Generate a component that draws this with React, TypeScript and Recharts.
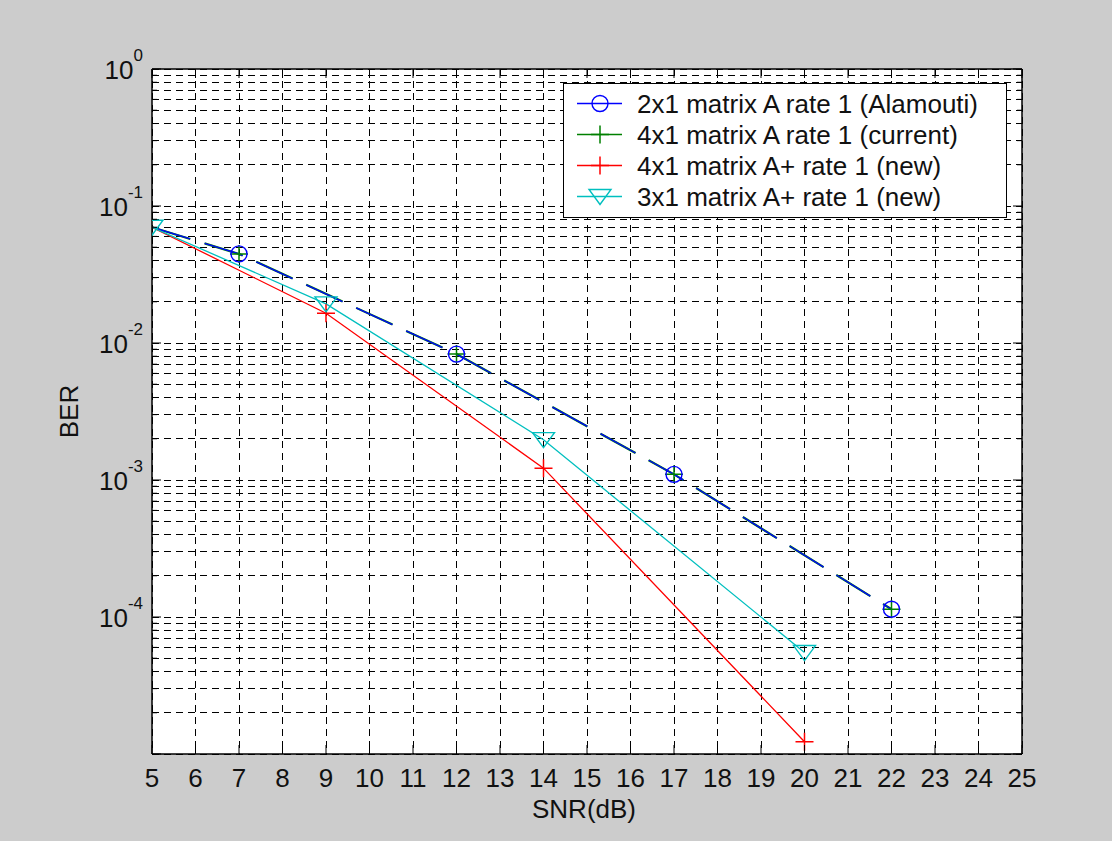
import React from "react";
import { LineChart, Line, XAxis, YAxis, CartesianGrid, Legend } from "recharts";

// BER vs SNR for the rate-1 space-time block code variants (log BER axis).

const SNR_RATE1 = [5, 7, 12, 17, 22];
const BER_ALAMOUTI_2X1 = [0.07, 0.0447, 0.0083, 0.0011, 0.000114];
const BER_CURRENT_4X1 = [0.07, 0.0447, 0.0083, 0.0011, 0.000114];

const SNR_NEW = [5, 9, 14, 20];
const BER_NEW_4X1 = [0.07, 0.0165, 0.00122, 0.0000123];
const BER_NEW_3X1 = [0.07, 0.0193, 0.00197, 0.000055];

const X_TICKS = [5, 6, 7, 8, 9, 10, 11, 12, 13, 14, 15, 16, 17, 18, 19, 20, 21, 22, 23, 24, 25];
const DECADES = [-5, -4, -3, -2, -1, 0];
const MINOR_STEPS = [1, 2, 3, 4, 5, 6, 7, 8, 9];
// grid/tick values: 1..9 x 10^k for each decade, closing on 10^0
const Y_TICKS = DECADES.flatMap((e) =>
  e === 0 ? [1] : MINOR_STEPS.map((m) => Number((m * Math.pow(10, e)).toPrecision(3))),
);

const FONT = "'Liberation Sans', Arial, sans-serif";
const INK = "#111";

type MarkerKind = "circle" | "plus" | "tri";

interface SeriesDef {
  name: string;
  snr: number[];
  ber: number[];
  color: string;
  marker: MarkerKind;
  dash?: string;
  width: number;
  z: number; // draw order; blue sits on top of the (identical) green curve
  markFirst: boolean; // the 5 dB start point carries no marker on the clipped curves
}

const SERIES: SeriesDef[] = [
  { name: "2x1 matrix A rate 1 (Alamouti)", snr: SNR_RATE1, ber: BER_ALAMOUTI_2X1, color: "#0000ff", marker: "circle", dash: "40 15", width: 1.3, z: 1, markFirst: false },
  { name: "4x1 matrix A rate 1 (current)", snr: SNR_RATE1, ber: BER_CURRENT_4X1, color: "#008000", marker: "plus", dash: "40 15", width: 2.2, z: 0, markFirst: false },
  { name: "4x1 matrix A+ rate 1 (new)", snr: SNR_NEW, ber: BER_NEW_4X1, color: "#ff0000", marker: "plus", width: 1.3, z: 2, markFirst: false },
  { name: "3x1 matrix A+ rate 1 (new)", snr: SNR_NEW, ber: BER_NEW_3X1, color: "#00bfbf", marker: "tri", width: 1.3, z: 3, markFirst: true },
];

function Marker({ kind, cx, cy, color }: { kind: MarkerKind; cx: number; cy: number; color: string }) {
  if (kind === "circle") {
    return <circle cx={cx} cy={cy} r={8} fill="none" stroke={color} strokeWidth={1.4} />;
  }
  if (kind === "plus") {
    return (
      <path
        d={`M${cx - 9},${cy}H${cx + 9}M${cx},${cy - 9}V${cy + 9}`}
        fill="none"
        stroke={color}
        strokeWidth={1.5}
      />
    );
  }
  return (
    <path
      d={`M${cx - 11},${cy - 7}L${cx + 11},${cy - 7}L${cx},${cy + 8}Z`}
      fill="none"
      stroke={color}
      strokeWidth={1.4}
    />
  );
}

function isDecade(v: number) {
  const l = Math.log10(v);
  return Math.abs(l - Math.round(l)) < 1e-6;
}

function LeftTick(props: any) {
  const { x, y, payload } = props;
  const v = payload.value as number;
  const major = isDecade(v);
  const exp = Math.round(Math.log10(v));
  return (
    <g>
      <line x1={x} x2={x + (major ? 9 : 5)} y1={y} y2={y} stroke="#000" />
      {major && exp > -5 && (
        <text x={x - 9} y={y + 10} textAnchor="end" fontFamily={FONT} fontSize={26} fill={INK}>
          <tspan>10</tspan>
          <tspan dy={-18} fontSize={17}>
            {exp}
          </tspan>
        </text>
      )}
    </g>
  );
}

function RightTick(props: any) {
  const { x, y, payload } = props;
  const major = isDecade(payload.value);
  return <line x1={x} x2={x - (major ? 9 : 5)} y1={y} y2={y} stroke="#000" />;
}

function BottomTick(props: any) {
  const { x, y, payload } = props;
  return (
    <g>
      <line x1={x} x2={x} y1={y} y2={y - 9} stroke="#000" />
      <text x={x} y={y + 33} textAnchor="middle" fontFamily={FONT} fontSize={26} fill={INK}>
        {payload.value}
      </text>
    </g>
  );
}

function TopTick(props: any) {
  const { x, y } = props;
  return <line x1={x} x2={x} y1={y} y2={y + 9} stroke="#000" />;
}

function BerTitle(p: any) {
  const vb = p.viewBox ?? { x: 0, y: 69, width: 152, height: 685 };
  const tx = vb.x + 78;
  const ty = vb.y + vb.height / 2;
  return (
    <text
      x={tx}
      y={ty}
      transform={`rotate(-90, ${tx}, ${ty})`}
      textAnchor="middle"
      fontFamily={FONT}
      fontSize={26}
      fill={INK}
    >
      BER
    </text>
  );
}

function SnrTitle(p: any) {
  const vb = p.viewBox ?? { x: 152, y: 754, width: 870, height: 87 };
  return (
    <text
      x={vb.x + vb.width / 2 - 3}
      y={vb.y + 64}
      textAnchor="middle"
      fontFamily={FONT}
      fontSize={26}
      fill={INK}
    >
      SNR(dB)
    </text>
  );
}

function LegendBox() {
  return (
    <svg width={444} height={135} style={{ display: "block" }}>
      <rect x={0.5} y={0.5} width={443} height={134} fill="#fff" stroke="#000" />
      {SERIES.map((s, i) => {
        const cy = 20.5 + i * 31;
        return (
          <g key={s.name}>
            <line x1={14} x2={59} y1={cy} y2={cy} stroke={s.color} strokeWidth={1.4} />
            <Marker kind={s.marker} cx={37} cy={cy} color={s.color} />
            <text x={74} y={cy + 9.5} fontFamily={FONT} fontSize={26} fill={INK}>
              {s.name}
            </text>
          </g>
        );
      })}
    </svg>
  );
}

export default function App() {
  const drawOrder = [...SERIES].sort((a, b) => a.z - b.z);
  return (
    <div style={{ position: "absolute", left: 0, top: 0, width: 1112, height: 841, background: "#cccccc" }}>
      <LineChart width={1112} height={841} margin={{ top: 0, right: 0, bottom: 0, left: 0 }}>
        <CartesianGrid
          xAxisId="bottom"
          yAxisId="left"
          fill="#ffffff"
          stroke="#000"
          strokeWidth={1}
          strokeDasharray="7 5"
          shapeRendering="crispEdges"
        />
        <XAxis
          xAxisId="bottom"
          orientation="bottom"
          dataKey="snr"
          type="number"
          domain={[5, 25]}
          ticks={X_TICKS}
          interval={0}
          allowDataOverflow
          height={87}
          tickSize={0}
          tickMargin={0}
          tickLine={false}
          axisLine={{ stroke: "#000", strokeWidth: 1.5 }}
          tick={BottomTick}
          label={{ value: "SNR(dB)", content: SnrTitle }}
        />
        <XAxis
          xAxisId="top"
          orientation="top"
          dataKey="snr"
          type="number"
          domain={[5, 25]}
          ticks={X_TICKS}
          interval={0}
          allowDataOverflow
          height={69}
          tickSize={0}
          tickMargin={0}
          tickLine={false}
          axisLine={{ stroke: "#000", strokeWidth: 1.5 }}
          tick={TopTick}
        />
        <YAxis
          yAxisId="left"
          orientation="left"
          type="number"
          scale="log"
          domain={[1e-5, 1]}
          ticks={Y_TICKS}
          interval={0}
          allowDataOverflow
          width={152}
          tickSize={0}
          tickMargin={0}
          tickLine={false}
          axisLine={{ stroke: "#000", strokeWidth: 1.5 }}
          tick={LeftTick}
          label={{ value: "BER", content: BerTitle }}
        />
        <YAxis
          yAxisId="right"
          orientation="right"
          type="number"
          scale="log"
          domain={[1e-5, 1]}
          ticks={Y_TICKS}
          interval={0}
          allowDataOverflow
          width={90}
          tickSize={0}
          tickMargin={0}
          tickLine={false}
          axisLine={{ stroke: "#000", strokeWidth: 1.5 }}
          tick={RightTick}
        />
        {drawOrder.map((s) => (
          <Line
            key={s.name}
            xAxisId="bottom"
            yAxisId="left"
            data={s.snr.map((snr, i) => ({ snr, ber: s.ber[i] }))}
            dataKey="ber"
            name={s.name}
            type="linear"
            stroke={s.color}
            strokeWidth={s.width}
            strokeDasharray={s.dash}
            isAnimationActive={false}
            activeDot={false}
            dot={(p: any) =>
              p.index === 0 && !s.markFirst ? (
                <g key={`${s.name}-${p.index}`} />
              ) : (
                <Marker key={`${s.name}-${p.index}`} kind={s.marker} cx={p.cx} cy={p.cy} color={s.color} />
              )
            }
          />
        ))}
        <Legend
          layout="vertical"
          verticalAlign="middle"
          align="center"
          wrapperStyle={{ left: 563, top: 83, width: 444, height: 135 }}
          content={() => <LegendBox />}
        />
      </LineChart>
    </div>
  );
}
